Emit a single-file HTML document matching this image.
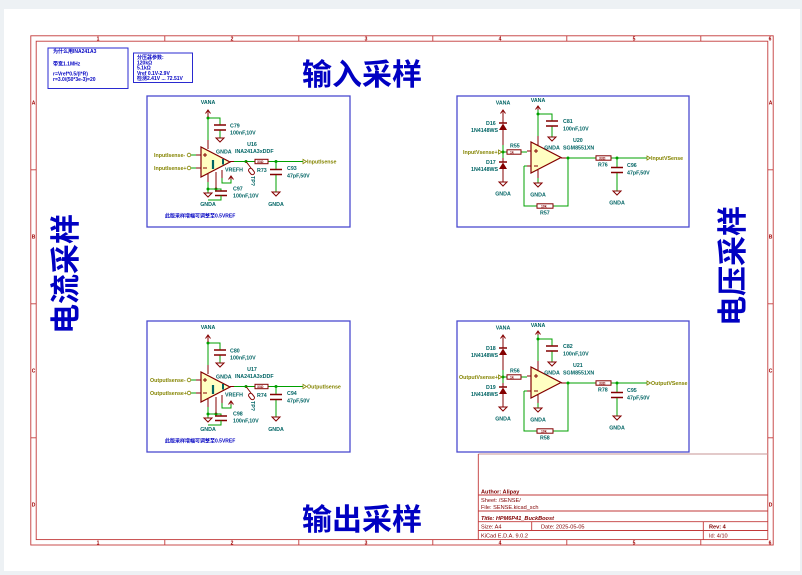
<!DOCTYPE html>
<html><head><meta charset="utf-8">
<style>
html,body{margin:0;padding:0;background:#edf1f4;}
svg{display:block}
.fr{stroke:#c23a3a;stroke-width:0.9;fill:none}
.ft{fill:#a00000;font-family:"Liberation Sans",sans-serif;font-size:5px;font-weight:bold}
.w{stroke:#00a000;stroke-width:1;fill:none}
.c{stroke:#840000;stroke-width:1;fill:none}
.cp{stroke:#840000;stroke-width:1.6;fill:none}
.t{fill:#006464;font-family:"Liberation Sans",sans-serif;font-size:5.3px;font-weight:bold}
.l{fill:#848400;font-family:"Liberation Sans",sans-serif;font-size:5.3px;font-weight:bold}
.n{fill:#0000c2;font-family:"Liberation Sans","Noto Sans CJK SC",sans-serif;font-size:5px;font-weight:bold}
.big{fill:#0000c2;font-family:"Liberation Sans","Noto Sans CJK SC",sans-serif;font-size:30px;font-weight:bold}
.tb{fill:#800000;font-family:"Liberation Sans",sans-serif;font-size:5.6px}
.rt{fill:#840000;font-family:"Liberation Sans",sans-serif;font-size:3.4px;font-weight:bold}
.blk{stroke:#4a4ad0;stroke-width:1.3;fill:none}
.j{fill:#00a000}
</style></head>
<body>
<svg width="802" height="575" viewBox="0 0 802 575" xmlns="http://www.w3.org/2000/svg">
<rect x="0" y="0" width="802" height="575" fill="#edf1f4"/>
<rect x="4" y="9" width="796" height="562" fill="#ffffff"/>

<!-- frame -->
<rect class="fr" x="30.8" y="35.8" width="742.4" height="509.2"/>
<rect class="fr" x="36.2" y="41.2" width="731.6" height="498.4"/>
<path class="fr" d="M164.8 35.8V41.2M298.8 35.8V41.2M432.8 35.8V41.2M566.8 35.8V41.2M700.8 35.8V41.2
M164.8 539.6V545M298.8 539.6V545M432.8 539.6V545M566.8 539.6V545M700.8 539.6V545
M30.8 169.8H36.2M30.8 303.8H36.2M30.8 437.8H36.2M767.8 169.8H773.2M767.8 303.8H773.2M767.8 437.8H773.2"/>
<g class="ft" text-anchor="middle">
<text x="98" y="40.5">1</text><text x="232" y="40.5">2</text><text x="366" y="40.5">3</text><text x="500" y="40.5">4</text><text x="634" y="40.5">5</text><text x="770" y="40.5">6</text>
<text x="98" y="544.3">1</text><text x="232" y="544.3">2</text><text x="366" y="544.3">3</text><text x="500" y="544.3">4</text><text x="634" y="544.3">5</text><text x="770" y="544.3">6</text>
<text x="33.5" y="104.5">A</text><text x="33.5" y="238.5">B</text><text x="33.5" y="372.5">C</text><text x="33.5" y="506.5">D</text>
<text x="770.5" y="104.5">A</text><text x="770.5" y="238.5">B</text><text x="770.5" y="372.5">C</text><text x="770.5" y="506.5">D</text>
</g>

<!-- title block -->
<path d="M478.3 454H767.8" stroke="#d2aaaa" stroke-width="1.2" fill="none"/>
<path class="fr" d="M478.3 454V539.6M478.3 495H767.8M478.3 511H767.8M478.3 521.7H767.8M478.3 530.5H767.8M531.7 521.7V530.5M703.3 521.7V539.6"/>
<text class="tb" x="481" y="493.5" font-weight="bold">Author: Alipay</text>
<text class="tb" x="481" y="501.8">Sheet: /SENSE/</text>
<text class="tb" x="481" y="509">File: SENSE.kicad_sch</text>
<text class="tb" x="481" y="520" font-size="8px" font-weight="bold" font-style="italic">Title: HPM6P41_BuckBoost</text>
<text class="tb" x="481" y="528.5">Size: A4</text>
<text class="tb" x="541" y="528.5">Date: 2025-05-05</text>
<text class="tb" x="709" y="528.5" font-weight="bold">Rev: 4</text>
<text class="tb" x="481" y="537.3">KiCad E.D.A. 9.0.2</text>
<text class="tb" x="709" y="537.3">Id: 4/10</text>

<!-- note boxes -->
<rect x="48" y="48" width="80" height="40.5" fill="none" stroke="#2a2ad0" stroke-width="1"/>
<text class="n" x="53" y="53">为什么用INA241A3</text>
<text class="n" x="53" y="65.5">带宽1.1MHz</text>
<text class="n" x="53" y="75.5">r=Vref*0.5/(I*R)</text>
<text class="n" x="53" y="81">r=3.0/(50*3e-3)=20</text>
<rect x="133.5" y="53" width="59" height="29.5" fill="none" stroke="#2a2ad0" stroke-width="1"/>
<text class="n" x="137" y="59">分压器参数:</text>
<text class="n" x="137" y="64.3">120kΩ</text>
<text class="n" x="137" y="69.6">5.1kΩ</text>
<text class="n" x="137" y="74.9">Vref 0.1V-2.9V</text>
<text class="n" x="137" y="80.2">检测2.41V ... 72.51V</text>

<!-- big labels -->
<text class="big" x="302" y="85">输入采样</text>
<text class="big" x="302" y="530">输出采样</text>
<text class="big" transform="translate(76,334) rotate(-90)">电流采样</text>
<text class="big" transform="translate(743,326) rotate(-90)">电压采样</text>

<!-- block borders -->
<rect class="blk" x="147" y="96" width="203" height="131"/>
<rect class="blk" x="457" y="96" width="232" height="131"/>
<rect class="blk" x="147" y="321" width="203" height="131"/>
<rect class="blk" x="457" y="321" width="232" height="131"/>

<defs>
<g id="curG">
 <!-- wires -->
 <path class="w" d="M208 118V140M208 118H220V124.5M220 130.5V138M190.8 155H196M190.8 168H196M234 161.5H255M268 161.5H303M276 161.5V169M276 174.5V192M208 182V193M208 189H216M216 189H221V190.5M222 178V183H231V179"/>
 <circle class="j" cx="208" cy="118" r="1.5"/>
 <circle class="j" cx="246" cy="161.5" r="1.5"/>
 <circle class="j" cx="276" cy="161.5" r="1.5"/>
 <circle class="j" cx="208" cy="189" r="1.5"/>
 <circle class="j" cx="216" cy="189" r="1.5"/>
 <!-- power symbols -->
 <path class="c" d="M208 117V110M205.5 113.5L208 110L210.5 113.5"/>
 <path class="c" d="M216 138H224L220 142Z"/>
 <path class="c" d="M272 192H280L276 196Z"/>
 <path class="c" d="M204 193H212L208 197Z"/>
 <path class="c" d="M231 179.5V176M228.5 179.5L231 176L233.5 179.5"/>
 <!-- caps -->
 <path class="cp" d="M214 125H226M214 130H226"/>
 <path class="cp" d="M270 169.5H282M270 174.5H282"/>
 <path class="cp" d="M215 191H227M215 195.5H227"/>
 <path class="w" d="M221 195.5V200H208"/>
 <!-- opamp -->
 <path class="c" d="M208 140V149M196 155H201M196 168H201M230 161.5H234M208 174V182M216 172V189M222 170V178"/>
 <polygon points="201,147 201,177 230,162" fill="#ffffc2" stroke="#840000" stroke-width="1.2"/>
 <path d="M223 159V164.5" stroke="#006464" stroke-width="2"/>
 <path d="M213 160V169" stroke="#006464" stroke-width="2.2"/>
 <path class="c" d="M203 155H207M205 153V157M203 168H207" stroke-width="0.8"/>
 <!-- resistor -->
 <rect x="255" y="159.3" width="13" height="4.4" fill="none" stroke="#840000" stroke-width="1"/>
 <text class="rt" x="257" y="162.9">33Ω</text>
 <!-- TP -->
 <path class="c" d="M246 161.5L251 168"/>
 <rect x="249.5" y="168" width="4" height="7" rx="2" fill="none" stroke="#840000" stroke-width="1" transform="rotate(-38 251.5 171.5)"/>
 <!-- label shapes -->
 <circle cx="189" cy="155" r="1.8" fill="none" stroke="#848400" stroke-width="0.8"/>
 <circle cx="189" cy="168" r="1.8" fill="none" stroke="#848400" stroke-width="0.8"/>
 <path d="M303 159.3L306.5 161.5L303 163.7Z" fill="none" stroke="#848400" stroke-width="0.8"/>
</g>
<g id="volG">
 <path class="w" d="M503 145V158M503 152H507M521 152H527M524 166H527M524 166V206H537M553 206H568V158M566 158H596M611 158H647M617 158V167M617 172.5V191M538 136V110M538 114H552V120.5M552 126.5V137M538 178V183"/>
 <circle class="j" cx="503" cy="152" r="1.5"/>
 <circle class="j" cx="568" cy="158" r="1.5"/>
 <circle class="j" cx="617" cy="158" r="1.5"/>
 <circle class="j" cx="538" cy="114" r="1.5"/>
 <!-- power -->
 <path class="c" d="M503 117V110M500.5 113.5L503 110L505.5 113.5"/>
 <path class="c" d="M538 110V106M535.5 109.5L538 106L540.5 109.5"/>
 <path class="c" d="M499 182H507L503 186Z"/>
 <path class="c" d="M548 137H556L552 141Z"/>
 <path class="c" d="M534 183H542L538 187Z"/>
 <path class="c" d="M613 191H621L617 195Z"/>
 <!-- diodes -->
 <path class="c" d="M503 117V123M503 130V145M503 158V162M503 169V182"/>
 <path class="cp" d="M499 123H507M499 162H507"/>
 <polygon points="499,130 507,130 503,123.5" fill="#840000"/>
 <polygon points="499,169 507,169 503,162.5" fill="#840000"/>
 <!-- caps -->
 <path class="cp" d="M546 121H558M546 126H558"/>
 <path class="cp" d="M611 167.5H623M611 172.5H623"/>
 <!-- opamp -->
 <path class="c" d="M527 151H531M527 166H531M538 136V146M538 170V178M561 158H566"/>
 <polygon points="531,142 531,173 561,157.5" fill="#ffffc2" stroke="#840000" stroke-width="1.2"/>
 <path class="c" d="M534 151H538M536 149V153M534 166H538" stroke-width="0.8"/>
 <!-- resistors -->
 <rect x="507" y="149.8" width="14" height="4.4" fill="none" stroke="#840000" stroke-width="1"/>
 <text class="rt" x="510" y="153.4">1k</text>
 <rect x="537" y="203.8" width="16" height="4.4" fill="none" stroke="#840000" stroke-width="1"/>
 <text class="rt" x="541" y="207.4">10k</text>
 <rect x="596" y="155.8" width="15" height="4.4" fill="none" stroke="#840000" stroke-width="1"/>
 <text class="rt" x="599" y="159.4">33Ω</text>
 <!-- label shapes -->
 <path d="M498.5 150L502 152L498.5 154Z" fill="none" stroke="#848400" stroke-width="0.8"/>
 <path d="M647 156L650.5 158L647 160Z" fill="none" stroke="#848400" stroke-width="0.8"/>
</g>
</defs>

<use href="#curG"/>
<use href="#curG" transform="translate(0,225)"/>
<use href="#volG"/>
<use href="#volG" transform="translate(0,225)"/>

<!-- texts: top-left current block -->
<g>
<text class="t" x="208" y="104" text-anchor="middle">VANA</text>
<text class="t" x="230" y="127.5">C79</text>
<text class="t" x="230" y="134.5">100nF,10V</text>
<text class="t" x="216" y="153.5">GNDA</text>
<text class="t" x="252" y="146" text-anchor="middle">U16</text>
<text class="t" x="235" y="153">INA241A3xDDF</text>
<text class="t" x="225" y="171.5">VREFH</text>
<text class="t" x="257" y="172">R73</text>
<text class="t" x="287" y="170">C93</text>
<text class="t" x="287" y="177.5">47pF,50V</text>
<text class="t" x="276" y="206" text-anchor="middle">GNDA</text>
<text class="t" x="208" y="206" text-anchor="middle">GNDA</text>
<text class="t" x="233" y="190.5">C97</text>
<text class="t" x="233" y="197.5">100nF,10V</text>
<text class="t" transform="translate(251,176) rotate(90)">TP?</text>
<text class="l" x="154" y="157">InputIsense-</text>
<text class="l" x="154" y="170">InputIsense+</text>
<text class="l" x="307" y="163.3">InputIsense</text>
<text class="n" x="165" y="217.5">此版采样增幅可调整至0.5VREF</text>
</g>
<!-- bottom-left -->
<g>
<text class="t" x="208" y="329" text-anchor="middle">VANA</text>
<text class="t" x="230" y="352.5">C80</text>
<text class="t" x="230" y="359.5">100nF,10V</text>
<text class="t" x="216" y="378.5">GNDA</text>
<text class="t" x="252" y="371" text-anchor="middle">U17</text>
<text class="t" x="235" y="378">INA241A3xDDF</text>
<text class="t" x="225" y="396.5">VREFH</text>
<text class="t" x="257" y="397">R74</text>
<text class="t" x="287" y="395">C94</text>
<text class="t" x="287" y="402.5">47pF,50V</text>
<text class="t" x="276" y="431" text-anchor="middle">GNDA</text>
<text class="t" x="208" y="431" text-anchor="middle">GNDA</text>
<text class="t" x="233" y="415.5">C98</text>
<text class="t" x="233" y="422.5">100nF,10V</text>
<text class="t" transform="translate(251,401) rotate(90)">TP?</text>
<text class="l" x="150" y="382">OutputIsense-</text>
<text class="l" x="150" y="395">OutputIsense+</text>
<text class="l" x="307" y="388.3">OutputIsense</text>
<text class="n" x="165" y="442.5">此版采样增幅可调整至0.5VREF</text>
</g>
<!-- top-right voltage block -->
<g>
<text class="t" x="503" y="104.5" text-anchor="middle">VANA</text>
<text class="t" x="538" y="102" text-anchor="middle">VANA</text>
<text class="t" x="486" y="125">D16</text>
<text class="t" x="471" y="132">1N4148WS</text>
<text class="t" x="486" y="164">D17</text>
<text class="t" x="471" y="171">1N4148WS</text>
<text class="t" x="503" y="195.5" text-anchor="middle">GNDA</text>
<text class="t" x="510" y="147.5">R55</text>
<text class="t" x="563" y="123">C81</text>
<text class="t" x="563" y="130.5">100nF,10V</text>
<text class="t" x="552" y="149.5" text-anchor="middle">GNDA</text>
<text class="t" x="573" y="142">U20</text>
<text class="t" x="563" y="149.5">SGM8551XN</text>
<text class="t" x="538" y="196.5" text-anchor="middle">GNDA</text>
<text class="t" x="598" y="166.5">R76</text>
<text class="t" x="627" y="167">C96</text>
<text class="t" x="627" y="174.5">47pF,50V</text>
<text class="t" x="617" y="204.5" text-anchor="middle">GNDA</text>
<text class="t" x="540" y="214.5">R57</text>
<text class="l" x="463" y="154">InputVsense+</text>
<text class="l" x="651" y="160">InputVSense</text>
</g>
<!-- bottom-right -->
<g>
<text class="t" x="503" y="329.5" text-anchor="middle">VANA</text>
<text class="t" x="538" y="327" text-anchor="middle">VANA</text>
<text class="t" x="486" y="350">D18</text>
<text class="t" x="471" y="357">1N4148WS</text>
<text class="t" x="486" y="389">D19</text>
<text class="t" x="471" y="396">1N4148WS</text>
<text class="t" x="503" y="420.5" text-anchor="middle">GNDA</text>
<text class="t" x="510" y="372.5">R56</text>
<text class="t" x="563" y="348">C82</text>
<text class="t" x="563" y="355.5">100nF,10V</text>
<text class="t" x="552" y="374.5" text-anchor="middle">GNDA</text>
<text class="t" x="573" y="367">U21</text>
<text class="t" x="563" y="374.5">SGM8551XN</text>
<text class="t" x="538" y="421.5" text-anchor="middle">GNDA</text>
<text class="t" x="598" y="391.5">R78</text>
<text class="t" x="627" y="392">C95</text>
<text class="t" x="627" y="399.5">47pF,50V</text>
<text class="t" x="617" y="429.5" text-anchor="middle">GNDA</text>
<text class="t" x="540" y="439.5">R58</text>
<text class="l" x="459" y="379">OutputVsense+</text>
<text class="l" x="651" y="385">OutputVSense</text>
</g>
</svg>
</body></html>
